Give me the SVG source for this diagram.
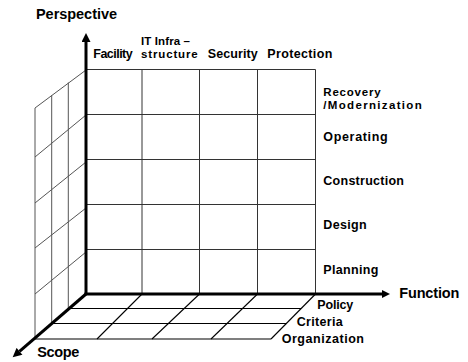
<svg xmlns="http://www.w3.org/2000/svg" width="468" height="362" viewBox="0 0 468 362">
<style>
.bg{fill:#ffffff}
.grid{stroke:#333333;stroke-width:1;fill:none}
.wall{stroke:#555555;stroke-width:1;fill:none}
.floor{stroke:#000000;stroke-width:1.1;fill:none}
.axis{stroke:#000000;stroke-width:3;fill:none}
.lbl{font-family:"Liberation Sans",Arial,sans-serif;font-weight:bold;font-size:12.5px;fill:#000000}
.lbl2{font-family:"Liberation Sans",Arial,sans-serif;font-weight:bold;font-size:11.5px;fill:#000000}
.ttl{font-family:"Liberation Sans",Arial,sans-serif;font-weight:bold;font-size:14.5px;fill:#000000}
</style>
<defs>
<marker id="ah" viewBox="0 0 10 10" refX="0" refY="5" markerWidth="10" markerHeight="9" orient="auto" markerUnits="userSpaceOnUse">
<path d="M0,0 L10,5 L0,10 z" fill="#000000"/>
</marker>
<marker id="ahs" viewBox="0 0 10 10" refX="0" refY="5" markerWidth="8" markerHeight="8" orient="auto" markerUnits="userSpaceOnUse">
<path d="M0,0 L10,5 L0,10 z" fill="#000000"/>
</marker>
</defs>
<rect class="bg" x="0" y="0" width="468" height="362"/>

<g id="left-wall">
<line class="wall" x1="86" y1="70" x2="35" y2="108"/>
<line class="wall" x1="86" y1="115" x2="35" y2="157"/>
<line class="wall" x1="86" y1="162" x2="35" y2="203"/>
<line class="wall" x1="86" y1="208" x2="35" y2="248"/>
<line class="wall" x1="86" y1="252" x2="35" y2="294"/>
<line class="wall" x1="35" y1="108" x2="35" y2="338"/>
<line class="wall" x1="51.7" y1="95.3" x2="51.7" y2="323.4"/>
<line class="wall" x1="68.3" y1="82.6" x2="68.3" y2="308.8"/>
</g>

<g id="front-grid">
<line class="grid" x1="86" y1="69.5" x2="315.5" y2="69.5"/>
<line class="grid" x1="86" y1="114.5" x2="315.5" y2="114.5"/>
<line class="grid" x1="86" y1="159.5" x2="315.5" y2="159.5"/>
<line class="grid" x1="86" y1="204.5" x2="315.5" y2="204.5"/>
<line class="grid" x1="86" y1="249.5" x2="315.5" y2="249.5"/>
<line class="grid" x1="142" y1="69.5" x2="142" y2="294"/>
<line class="grid" x1="199.5" y1="69.5" x2="199.5" y2="294"/>
<line class="grid" x1="257.5" y1="69.5" x2="257.5" y2="294"/>
<line class="grid" x1="315.5" y1="69.5" x2="315.5" y2="294"/>
</g>

<g id="floor">
<line class="floor" x1="69.3" y1="308.5" x2="301" y2="308.5"/>
<line class="floor" x1="51.8" y1="323.5" x2="286.3" y2="323.5"/>
<line class="floor" x1="33.5" y1="339" x2="271" y2="339"/>
<line class="floor" x1="315.5" y1="294" x2="271" y2="339"/>
<line class="floor" x1="142" y1="294" x2="97" y2="339"/>
<line class="floor" x1="199.5" y1="294" x2="152" y2="339"/>
<line class="floor" x1="257.5" y1="294" x2="211" y2="339"/>
</g>

<g id="connectors">
<line class="axis" x1="86" y1="295" x2="86" y2="42" marker-end="url(#ah)"/>
<line class="axis" x1="84.5" y1="294" x2="382" y2="294" marker-end="url(#ahs)"/>
<line class="axis" x1="86" y1="294" x2="19.5" y2="351.3" marker-end="url(#ah)"/>
</g>

<g id="axis-titles">
<text class="ttl" x="36" y="19.3" textLength="81" lengthAdjust="spacing">Perspective</text>
<text class="ttl" x="399.3" y="297.7" textLength="60" lengthAdjust="spacing">Function</text>
<text class="ttl" x="37.3" y="357.3" textLength="42" lengthAdjust="spacing">Scope</text>
</g>

<g id="function-labels">
<text class="lbl" x="93.3" y="57.7" textLength="39.4" lengthAdjust="spacing">Facility</text>
<text class="lbl2" x="141" y="44.7" textLength="49" lengthAdjust="spacing">IT Infra –</text>
<text class="lbl2" x="141" y="57.7" textLength="56.7" lengthAdjust="spacing">structure</text>
<text class="lbl" x="207.7" y="57.7" textLength="50" lengthAdjust="spacing">Security</text>
<text class="lbl" x="267.3" y="57.7" textLength="65" lengthAdjust="spacing">Protection</text>
</g>

<g id="perspective-labels">
<text class="lbl2" x="323.3" y="95.5" textLength="57.4" lengthAdjust="spacing">Recovery</text>
<text class="lbl2" x="323.3" y="108.5" textLength="98.4" lengthAdjust="spacing">/Modernization</text>
<text class="lbl" x="323.3" y="141" textLength="64.4" lengthAdjust="spacing">Operating</text>
<text class="lbl" x="323.3" y="185" textLength="80.7" lengthAdjust="spacing">Construction</text>
<text class="lbl" x="323.3" y="229.3" textLength="43.4" lengthAdjust="spacing">Design</text>
<text class="lbl" x="323.3" y="274" textLength="55" lengthAdjust="spacing">Planning</text>
</g>

<g id="scope-labels">
<text class="lbl" x="317.3" y="309" textLength="36" lengthAdjust="spacing">Policy</text>
<text class="lbl" x="296.7" y="326" textLength="46" lengthAdjust="spacing">Criteria</text>
<text class="lbl" x="281.7" y="343.3" textLength="82.3" lengthAdjust="spacing">Organization</text>
</g>
</svg>
